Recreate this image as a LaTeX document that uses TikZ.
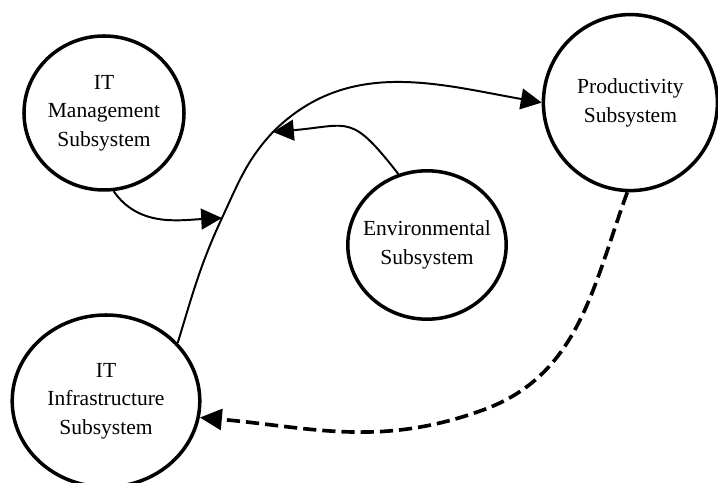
\documentclass[tikz,border=0pt]{standalone}
\usepackage{fontspec}
\setmainfont{Liberation Serif}
\usetikzlibrary{shapes.geometric,arrows.meta}

\begin{document}
\begin{tikzpicture}[
  subsys/.style={draw, ellipse, line width=2.5pt, inner sep=-0.3cm, align=center,
    font=\fontsize{15.3}{20.3}\selectfont},
  link/.style={line width=1.4pt, -{Triangle[length=0.52cm, width=0.52cm]}},
  feedback/.style={line width=2.6pt, dash pattern=on 0.33cm off 0.15cm,
    -{Triangle[length=0.55cm, width=0.52cm]}}
]
\useasboundingbox (0,0) rectangle (17.95,12.075);

% Subsystems
\node[subsys, minimum width=4cm, minimum height=3.85cm] (mgmt) at (2.6,9.25) {IT\\Management\\Subsystem};
\node[subsys, minimum width=4.35cm, minimum height=4.4cm] (prod) at (15.76,9.51) {Productivity\\Subsystem};
\node[subsys, minimum width=3.96cm, minimum height=3.71cm] (env) at (10.675,5.95) {Environmental\\Subsystem};
\node[subsys, minimum width=4.69cm, minimum height=4.3cm] (infra) at (2.65,2.05) {IT\\Infrastructure\\Subsystem};

% Points on the main curve
\coordinate (mgmtIn) at (5.55,6.625);
\coordinate (envIn) at (6.825,8.775);

% Main curve and inputs
\draw[link] (infra.39) to[out=73,in=-115] (mgmtIn) to[out=65,in=-133] (envIn) to[out=45,in=170] (prod.west);
\draw[link] (mgmt.-83) to[out=-55,in=183] (mgmtIn);
\draw[link] (env.112) to[out=128,in=5,looseness=1.5] (envIn);

% Feedback
\coordinate (bend) at (12.075,1.825);
\draw[feedback] (prod.-92) to[out=-110,in=20] (bend) to[out=-160,in=-5] (infra.-10);
\end{tikzpicture}
\end{document}
